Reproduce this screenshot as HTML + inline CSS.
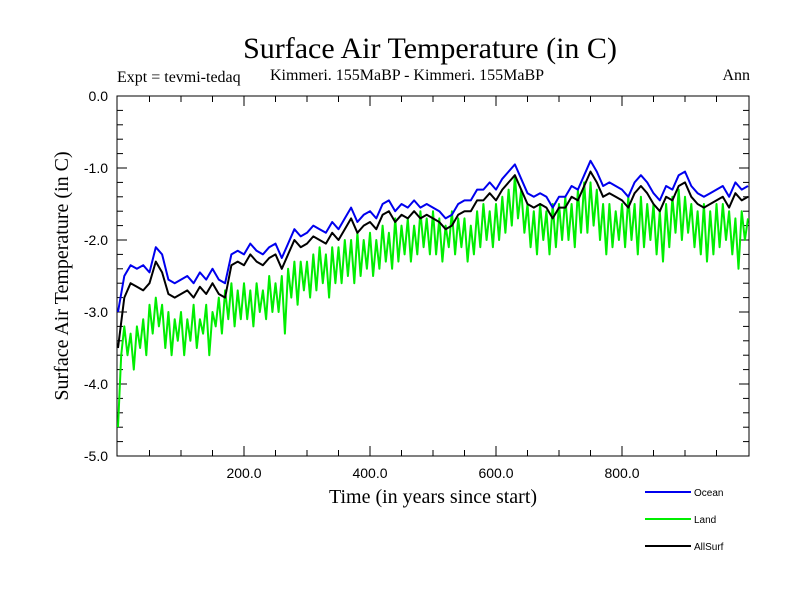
<!DOCTYPE html>
<html><head><meta charset="utf-8"><style>
html,body{margin:0;padding:0;background:#fff;}
svg{display:block;}
.serif{font-family:"Liberation Serif",serif;}
.sans{font-family:"Liberation Sans",sans-serif;}
</style></head><body>
<svg id="chart" width="800" height="600" viewBox="0 0 800 600">
<text class="serif" x="430" y="58" font-size="30" text-anchor="middle">Surface Air Temperature (in C)</text>
<text class="serif" x="117" y="82" font-size="16">Expt = tevmi-tedaq</text>
<text class="serif" x="270" y="80" font-size="16">Kimmeri. 155MaBP - Kimmeri. 155MaBP</text>
<text class="serif" x="750" y="80" font-size="16" text-anchor="end">Ann</text>
<g id="axes"></g>
<g id="series"></g>
<text class="serif" x="433" y="503" font-size="20" text-anchor="middle">Time (in years since start)</text>
<text class="serif" transform="translate(68,276) rotate(-90)" font-size="20" text-anchor="middle">Surface Air Temperature (in C)</text>
<g id="legend"></g>
</svg>
<script>
const xTicks = [200, 400, 600, 800];
const xTickLabels = ["200.0", "400.0", "600.0", "800.0"];
const yTicks = [0, -1, -2, -3, -4, -5];
const yTickLabels = ["0.0", "-1.0", "-2.0", "-3.0", "-4.0", "-5.0"];
const seriesNames = ["Ocean", "Land", "AllSurf"];
const oceanYearsStep = 10;
const ocean = [-3.0,-2.5,-2.35,-2.4,-2.35,-2.45,-2.1,-2.2,-2.55,-2.6,
-2.55,-2.5,-2.6,-2.45,-2.55,-2.4,-2.55,-2.6,-2.2,-2.15,
-2.2,-2.05,-2.15,-2.2,-2.1,-2.05,-2.25,-2.05,-1.85,-1.95,
-1.9,-1.8,-1.85,-1.9,-1.75,-1.85,-1.7,-1.55,-1.75,-1.65,
-1.6,-1.7,-1.5,-1.45,-1.6,-1.5,-1.55,-1.45,-1.55,-1.5,
-1.55,-1.6,-1.7,-1.65,-1.5,-1.45,-1.45,-1.3,-1.3,-1.2,
-1.3,-1.15,-1.05,-0.95,-1.15,-1.35,-1.4,-1.35,-1.4,-1.55,
-1.4,-1.4,-1.25,-1.3,-1.1,-0.9,-1.05,-1.25,-1.2,-1.25,
-1.3,-1.4,-1.2,-1.1,-1.2,-1.35,-1.45,-1.25,-1.3,-1.1,
-1.05,-1.25,-1.35,-1.4,-1.35,-1.3,-1.25,-1.4,-1.2,-1.3,-1.25];
const allSurf = [-3.5,-2.8,-2.6,-2.65,-2.7,-2.6,-2.3,-2.45,-2.75,-2.8,
-2.75,-2.7,-2.8,-2.65,-2.75,-2.6,-2.75,-2.8,-2.35,-2.3,
-2.35,-2.2,-2.3,-2.35,-2.25,-2.2,-2.4,-2.2,-2.0,-2.1,
-2.05,-1.95,-2.0,-2.05,-1.9,-2.0,-1.85,-1.7,-1.9,-1.8,
-1.75,-1.85,-1.65,-1.6,-1.75,-1.65,-1.7,-1.6,-1.7,-1.65,
-1.7,-1.75,-1.85,-1.8,-1.65,-1.6,-1.6,-1.45,-1.45,-1.35,
-1.45,-1.3,-1.2,-1.1,-1.3,-1.5,-1.55,-1.5,-1.55,-1.7,
-1.55,-1.55,-1.4,-1.45,-1.25,-1.05,-1.2,-1.4,-1.35,-1.4,
-1.45,-1.55,-1.35,-1.25,-1.35,-1.5,-1.6,-1.4,-1.45,-1.25,
-1.2,-1.4,-1.5,-1.55,-1.5,-1.45,-1.4,-1.55,-1.35,-1.45,-1.4];
const landYearsStep = 5;
const land = [-4.6,-3.6,-3.2,-3.6,-3.3,-3.8,-3.2,-3.5,-3.1,-3.6,
-2.9,-3.3,-2.8,-3.2,-2.9,-3.5,-3.0,-3.6,-3.1,-3.4,
-3.0,-3.6,-3.1,-3.4,-2.9,-3.5,-3.1,-3.3,-2.9,-3.6,
-3.0,-3.2,-2.8,-3.3,-2.7,-3.1,-2.6,-3.2,-2.7,-3.1,
-2.6,-3.1,-2.7,-3.2,-2.6,-3.0,-2.7,-3.1,-2.5,-3.0,
-2.6,-3.0,-2.5,-3.3,-2.4,-2.8,-2.3,-2.9,-2.3,-2.7,
-2.3,-2.8,-2.2,-2.7,-2.1,-2.6,-2.2,-2.8,-2.1,-2.6,
-2.1,-2.6,-2.0,-2.5,-2.0,-2.6,-1.9,-2.5,-2.0,-2.4,
-1.9,-2.5,-2.0,-2.4,-1.8,-2.3,-1.9,-2.4,-1.7,-2.3,
-1.8,-2.2,-1.7,-2.3,-1.8,-2.2,-1.6,-2.1,-1.7,-2.2,
-1.6,-2.2,-1.7,-2.3,-1.8,-2.1,-1.6,-2.2,-1.7,-2.1,
-1.7,-2.3,-1.8,-2.2,-1.6,-2.1,-1.5,-2.0,-1.6,-2.1,
-1.5,-2.0,-1.4,-1.9,-1.3,-1.8,-1.1,-1.7,-1.3,-1.9,
-1.5,-2.1,-1.6,-2.2,-1.5,-2.0,-1.6,-2.2,-1.5,-2.1,
-1.5,-2.0,-1.4,-2.0,-1.5,-2.1,-1.3,-1.9,-1.2,-1.9,
-1.2,-1.8,-1.3,-2.0,-1.5,-2.2,-1.5,-2.1,-1.6,-2.0,
-1.5,-2.1,-1.4,-2.0,-1.5,-2.2,-1.4,-2.1,-1.5,-2.0,
-1.5,-2.2,-1.6,-2.3,-1.5,-2.1,-1.4,-1.9,-1.3,-2.0,
-1.4,-1.9,-1.5,-2.1,-1.6,-2.2,-1.5,-2.3,-1.6,-2.2,
-1.5,-2.1,-1.5,-2.0,-1.6,-2.2,-1.7,-2.4,-1.6,-2.0,-1.7];

const L=117, R=749, T=96, B=456;
const xScale = v => 118 + v*0.63;
const yScale = v => T + (0 - v)*72;
const NS="http://www.w3.org/2000/svg";
function mk(tag, attrs, parent){const e=document.createElementNS(NS,tag);for(const k in attrs)e.setAttribute(k,attrs[k]);parent.appendChild(e);return e;}
const axes=document.getElementById('axes');
const frame=mk('rect',{x:L,y:T,width:R-L,height:B-T,fill:'none',stroke:'#000','stroke-width':1},axes);


// minor x ticks every 50
for(let v=50; v<1000; v+=50){
  const x=xScale(v), len=(v%200===0)?10:6;
  const t1=mk('line',{x1:x,x2:x,y1:B,y2:B-len,stroke:'#000'},axes);
  
  
  const t2=mk('line',{x1:x,x2:x,y1:T,y2:T+len,stroke:'#000'},axes);
  
  
}
xTicks.forEach((v,i)=>{
  const t=mk('text',{x:xScale(v),y:B+22,'font-size':14,'text-anchor':'middle',class:'sans'},axes);
  t.textContent=xTickLabels[i];
  
  
});
for(let k=1;k<25;k++){
  const v=-k*0.2, y=yScale(v), major=(k%5===0), len=major?10:6;
  const a=mk('line',{x1:L,x2:L+len,y1:y,y2:y,stroke:'#000'},axes);
  
  
  const b=mk('line',{x1:R,x2:R-len,y1:y,y2:y,stroke:'#000'},axes);
  
  
}
yTicks.forEach((v,i)=>{
  const t=mk('text',{x:108,y:yScale(v)+5,'font-size':14,'text-anchor':'end',class:'sans'},axes);
  t.textContent=yTickLabels[i];
  
  
});
const sg=document.getElementById('series');
function line(data, step, color, name){
  const pts=data.map((v,i)=>xScale(i*step).toFixed(1)+','+yScale(v).toFixed(1)).join(' ');
  const p=mk('polyline',{points:pts,fill:'none',stroke:color,'stroke-width':2,'stroke-linejoin':'round'},sg);
  
  
}
line(land, landYearsStep, '#00ee00', 'land-series');
line(ocean, oceanYearsStep, '#0000ee', 'ocean-series');
line(allSurf, oceanYearsStep, '#000000', 'allsurf-series');
const lg=document.getElementById('legend');
const lcolors=['#0000ee','#00ee00','#000000'];
seriesNames.forEach((n,i)=>{
  const y=492+i*27;
  const l=mk('line',{x1:645,x2:691,y1:y,y2:y,stroke:lcolors[i],'stroke-width':2},lg);
  
  
  const t=mk('text',{x:694,y:y+4,'font-size':10,class:'sans'},lg);
  t.textContent=n;
  
  
});
</script>
</body></html>
